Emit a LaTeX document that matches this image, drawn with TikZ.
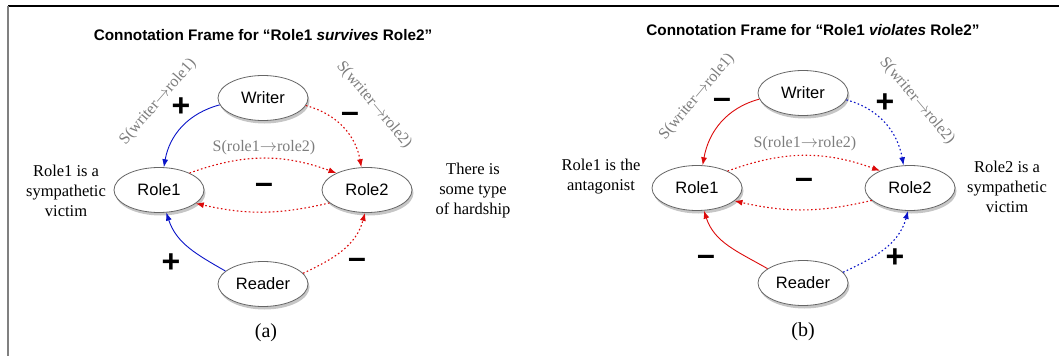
\documentclass[tikz,border=0pt]{standalone}
\usepackage{fontspec}
\setmainfont{Liberation Serif}
\setsansfont{Liberation Sans}
\usetikzlibrary{shapes.geometric,shadows,arrows.meta}
\definecolor{cblue}{RGB}{10,20,200}
\definecolor{cred}{RGB}{220,10,10}
\definecolor{lblgray}{RGB}{125,125,125}
\newcommand{\rarr}{\ensuremath{\rightarrow}}
\tikzset{
  rolebox/.style={ellipse, draw=gray!80!black, line width=0.8pt, fill=white,
    minimum width=90pt, minimum height=45pt, inner sep=0pt,
    font=\sffamily\fontsize{16.5}{18}\selectfont,
    drop shadow={shadow xshift=1.5pt, shadow yshift=-3pt, opacity=0.45, fill=gray}},
  solidarr/.style={-{Latex[length=8pt,width=6pt]}, line width=0.9pt},
  dotarr/.style={-{Latex[length=8pt,width=6pt]}, line width=1.1pt, dash pattern=on 1.6pt off 2.4pt},
  sgn/.style={font=\sffamily\bfseries\fontsize{32}{32}\selectfont, inner sep=0pt},
  lbl/.style={text=lblgray, font=\fontsize{16}{18}\selectfont, inner sep=0pt},
  sidetext/.style={align=center, font=\fontsize{16.5}{20}\selectfont, inner sep=0pt},
  ttl/.style={font=\sffamily\bfseries\fontsize{15.3}{17}\selectfont, inner sep=0pt},
  subcap/.style={font=\fontsize{20}{22}\selectfont, inner sep=0pt}
}
\begin{document}
\begin{tikzpicture}[x=1pt,y=1pt]
\useasboundingbox (0,0) rectangle (1059,-356);
\coordinate (tl) at (8,-6);
\coordinate (tr) at (1059,-6);
\coordinate (bl) at (8,-356);
\draw[line width=1.3pt] (tl) -- (tr);
\draw[gray, line width=1.6pt] (tl) -- (bl);

% ---------- panel (a)
\node[ttl] (ta) at (263,-35) {Connotation Frame for “Role1 \textit{survives} Role2”};
\node[rolebox] (wa) at (263,-98) {Writer};
\node[rolebox] (r1a) at (159,-190) {Role1};
\node[rolebox] (r2a) at (367,-190) {Role2};
\node[rolebox] (rda) at (263,-284) {Reader};
\node[subcap] (ca) at (266,-333) {(a)};
\node[sidetext] (la) at (66,-191) {Role1 is a\\sympathetic\\victim};
\node[sidetext] (ra) at (473,-191) {There is\\some type\\of hardship};
\node[lbl] (sa) at (264,-148) {S(role1\rarr role2)};
\node[lbl, rotate=49] (s1a) at (158,-102) {S(writer\rarr role1)};
\node[lbl, rotate=-50] (s2a) at (374,-105) {S(writer\rarr role2)};
\node[sgn] (p1a) at (181,-107) {+};
\node[sgn] (m1a) at (350,-117) {–};
\node[sgn] (m2a) at (264,-188) {–};
\node[sgn] (p2a) at (171,-263) {+};
\node[sgn] (m3a) at (357,-263) {–};

\draw[solidarr, cblue] (wa.189) to[out=195, in=80] (r1a.78);
\draw[dotarr, cred] (wa.350) to[out=-15, in=100] (r2a.104);
\draw[dotarr, cred] (r1a.29) to[bend left=20] (r2a.151);
\draw[dotarr, cred] (r2a.199) to[bend left=13] (r1a.340);
\draw[solidarr, cblue] (rda.161) to[out=150, in=-72] (r1a.288);
\draw[dotarr, cred] (rda.15) to[out=25, in=-105] (r2a.265);

% ---------- panel (b)
\node[ttl] (tb) at (813,-30) {Connotation Frame for “Role1 \textit{violates} Role2”};
\node[rolebox] (wb) at (803,-93) {Writer};
\node[rolebox] (r1b) at (697,-188) {Role1};
\node[rolebox] (r2b) at (910,-188) {Role2};
\node[rolebox] (rdb) at (803,-283) {Reader};
\node[subcap] (cb) at (803,-332) {(b)};
\node[sidetext] (lb) at (601,-177) {Role1 is the\\antagonist};
\node[sidetext] (rb) at (1007,-187) {Role2 is a\\sympathetic\\victim};
\node[lbl] (sb) at (805,-144) {S(role1\rarr role2)};
\node[lbl, rotate=50] (s1b) at (697,-97) {S(writer\rarr role1)};
\node[lbl, rotate=-50] (s2b) at (917,-101) {S(writer\rarr role2)};
\node[sgn] (m1b) at (722,-103) {–};
\node[sgn] (p1b) at (885,-103) {+};
\node[sgn] (m2b) at (804,-183) {–};
\node[sgn] (m3b) at (706,-260) {–};
\node[sgn] (p2b) at (895,-258) {+};

\draw[solidarr, cred] (wb.188) to[out=195, in=80] (r1b.76);
\draw[dotarr, cblue] (wb.351) to[out=-15, in=100] (r2b.106);
\draw[dotarr, cred] (r1b.29) to[bend left=20] (r2b.150);
\draw[dotarr, cred] (r2b.198) to[bend left=13] (r1b.341);
\draw[solidarr, cred] (rdb.158) to[out=150, in=-72] (r1b.287);
\draw[dotarr, cblue] (rdb.15) to[out=25, in=-105] (r2b.265);
\end{tikzpicture}
\end{document}
